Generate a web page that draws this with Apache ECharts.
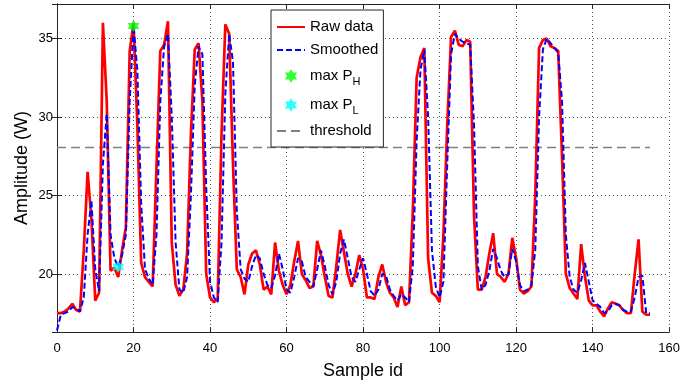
<!DOCTYPE html>
<html>
<head>
<meta charset="utf-8">
<script src="https://cdn.jsdelivr.net/npm/echarts@6/dist/echarts.min.js"></script>
<style>
html,body{margin:0;padding:0;background:#fff;}
#c{width:683px;height:386px;}
</style>
</head>
<body>
<div id="c"></div>
<script>
// Sample ids are the array index (0..155)
const rawData = [
17.5,17.5,17.6,17.8,18.1,17.7,17.6,21.5,26.5,23.5,
18.3,18.8,36.0,31.0,20.2,20.4,19.8,21.5,23.0,34.2,
36.0,29.5,20.7,19.8,19.5,19.2,26.8,34.2,34.6,36.1,
22.0,19.3,18.6,19.0,21.3,28.9,34.3,34.7,31.0,20.0,
18.5,18.2,18.4,28.9,35.9,35.3,27.0,20.3,19.8,18.7,
20.6,21.3,21.5,20.6,19.0,19.2,18.7,22.0,20.2,19.3,
18.7,19.3,20.8,22.1,20.0,19.6,19.1,19.2,22.1,21.2,
19.8,18.6,18.5,20.5,22.8,21.4,20.0,19.2,20.0,21.2,
20.3,18.5,18.5,18.4,19.8,20.6,19.5,18.8,18.5,17.9,
19.2,18.0,18.2,24.0,32.5,33.8,34.4,21.0,18.8,18.6,
18.2,22.5,29.5,35.1,35.5,34.6,34.5,34.9,34.8,23.7,
19.0,19.0,19.8,21.3,22.6,20.0,19.8,19.5,20.0,22.3,
21.0,19.0,18.75,18.9,19.2,25.0,34.4,34.9,35.0,34.5,
34.4,34.2,27.5,20.0,19.1,18.75,18.4,21.9,19.8,18.3,
18.0,18.0,17.6,17.3,17.8,18.2,18.1,18.0,17.7,17.5,
17.5,20.0,22.2,17.6,17.4,17.4
];
const smoothedData = [
16.4,17.4,17.5,17.6,17.9,17.8,17.6,18.5,22.5,24.7,
20.3,18.9,27.0,30.2,22.5,21.0,20.45,21.2,22.5,31.0,
35.8,33.0,24.5,20.3,19.7,19.3,22.5,31.0,34.5,35.3,
30.0,22.0,19.0,18.8,19.8,25.0,32.0,34.5,34.0,25.5,
19.5,18.5,18.2,22.0,31.5,35.3,33.5,24.0,20.3,19.7,
19.5,20.5,21.2,21.0,20.0,19.3,19.1,19.9,21.3,20.3,
19.0,18.8,19.8,21.0,20.8,19.8,19.5,19.2,20.3,21.5,
20.5,19.3,18.7,19.5,21.3,22.2,21.0,19.8,19.5,20.3,
21.0,20.0,18.9,18.6,19.0,20.0,19.9,19.0,18.6,18.3,
18.7,18.5,18.2,20.5,28.5,33.0,34.3,30.0,21.5,19.2,
18.5,19.5,27.0,34.0,35.3,35.0,34.8,34.7,34.6,29.5,
20.5,19.0,19.3,20.2,21.6,21.0,20.2,19.8,20.0,21.6,
20.8,19.3,18.9,19.0,19.3,21.5,30.0,34.3,35.0,34.7,
34.4,34.1,31.0,22.5,19.8,19.0,18.8,19.6,20.7,19.5,
18.3,18.1,17.9,17.5,17.6,18.0,18.1,18.0,17.7,17.6,
17.6,18.5,19.8,19.9,17.5,17.5
];
const maxPH = [20, 35.8];
const maxPL = [16, 20.45];
const thresholdValue = 28.05;
const thresholdRange = [0, 155];
const xTickInterval = 20;

const rawPairs = rawData.map((v, i) => [i, v]);
const smoothPairs = smoothedData.map((v, i) => [i, v]);
const thrPairs = thresholdRange.map(x => [x, thresholdValue]);

const hexagram = 'path://M100,0L128.87,50L186.6,50L157.7,100L186.6,150L128.87,150L100,200L71.13,150L13.4,150L42.3,100L13.4,50L71.13,50Z';
const FONT = 'Liberation Sans, Arial, Helvetica, sans-serif';
const frameColor = '#262626';
const gridLine = {show: true, lineStyle: {type: [1, 3], color: '#555', width: 1}};
const noSymbol = {opacity: 0, borderWidth: 0};

const chart = echarts.init(document.getElementById('c'), null, {renderer: 'canvas'});
chart.setOption({
  animation: false,
  backgroundColor: '#fff',
  grid: {left: 57, right: 10, top: 4, bottom: 54, containLabel: false},
  legend: {
    orient: 'vertical',
    left: 271, top: 10,
    padding: [9, 5, 8, 5],
    itemGap: 7,
    itemWidth: 28, itemHeight: 14,
    backgroundColor: '#fff',
    borderColor: frameColor, borderWidth: 1,
    textStyle: {
      fontFamily: FONT, fontSize: 15, color: '#000', lineHeight: 16,
      rich: {
        n: {fontFamily: FONT, fontSize: 15, color: '#000', lineHeight: 22},
        s: {fontFamily: FONT, fontSize: 11, color: '#000', lineHeight: 11, verticalAlign: 'bottom'}
      }
    },
    formatter: function (name) {
      if (name === 'max P_H') return '{n|max P}{s|H}';
      if (name === 'max P_L') return '{n|max P}{s|L}';
      return name;
    },
    data: [
      {name: 'Raw data', itemStyle: noSymbol},
      {name: 'Smoothed', itemStyle: noSymbol},
      {name: 'max P_H'},
      {name: 'max P_L'},
      {name: 'threshold', itemStyle: noSymbol}
    ]
  },
  xAxis: [{
    type: 'value', min: 0, max: 160, interval: xTickInterval, position: 'bottom',
    name: 'Sample id', nameLocation: 'middle', nameGap: 30, nameMoveOverlap: false,
    nameTextStyle: {fontFamily: FONT, fontSize: 18, color: '#000'},
    axisLine: {show: true, lineStyle: {color: frameColor, width: 1}},
    axisTick: {show: true, inside: true, length: 5, lineStyle: {color: frameColor}},
    axisLabel: {fontFamily: FONT, fontSize: 13, color: '#000', margin: 10},
    splitLine: gridLine
  }, {
    type: 'value', min: 0, max: 160, interval: xTickInterval, position: 'top',
    axisLine: {show: true, lineStyle: {color: frameColor, width: 1}},
    axisTick: {show: true, inside: true, length: 5, lineStyle: {color: frameColor}},
    axisLabel: {show: false}, splitLine: {show: false}
  }],
  yAxis: [{
    type: 'value', min: 16.3, max: 37.2, position: 'left',
    name: 'Amplitude (W)', nameLocation: 'middle', nameGap: 26, nameRotate: 90, nameMoveOverlap: false,
    nameTextStyle: {fontFamily: FONT, fontSize: 18, color: '#000'},
    axisLine: {show: true, lineStyle: {color: frameColor, width: 1}},
    axisTick: {show: true, inside: true, length: 5, lineStyle: {color: frameColor}},
    axisLabel: {fontFamily: FONT, fontSize: 13, color: '#000', margin: 4, showMinLabel: false, showMaxLabel: false},
    splitLine: gridLine
  }, {
    type: 'value', min: 16.3, max: 37.2, position: 'right',
    axisLine: {show: true, lineStyle: {color: frameColor, width: 1}},
    axisTick: {show: true, inside: true, length: 5, lineStyle: {color: frameColor}},
    axisLabel: {show: false}, splitLine: {show: false}
  }],
  series: [
    {
      name: 'threshold', type: 'line', data: thrPairs, symbol: 'none',
      lineStyle: {color: '#808080', width: 1.5, type: [9, 5]}, itemStyle: {color: '#808080'}, z: 2
    },
    {
      name: 'Raw data', type: 'line', data: rawPairs, symbol: 'none',
      lineStyle: {color: '#ff0000', width: 2.7}, itemStyle: {color: '#ff0000'}, z: 3
    },
    {
      name: 'Smoothed', type: 'line', data: smoothPairs, symbol: 'none',
      lineStyle: {color: '#0000ff', width: 2, type: [6, 3]}, itemStyle: {color: '#0000ff'}, z: 4
    },
    {
      name: 'max P_H', type: 'scatter', data: [maxPH], symbol: hexagram, symbolSize: 12,
      itemStyle: {color: '#00ff00'}, z: 5
    },
    {
      name: 'max P_L', type: 'scatter', data: [maxPL], symbol: hexagram, symbolSize: 12,
      itemStyle: {color: '#00ffff'}, z: 5
    }
  ]
});
</script>
</body>
</html>
